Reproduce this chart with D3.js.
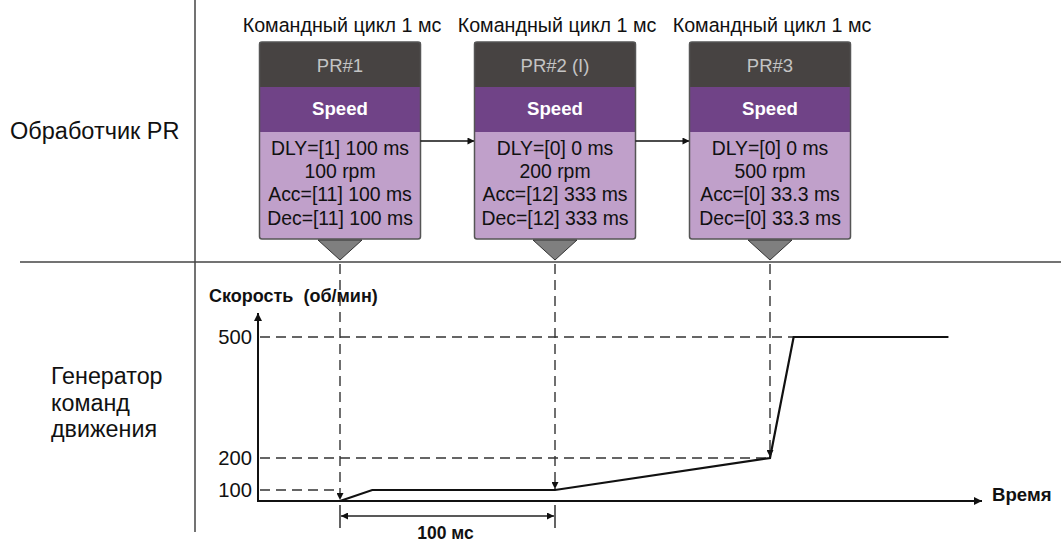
<!DOCTYPE html>
<html><head><meta charset="utf-8">
<script src="https://cdn.jsdelivr.net/npm/d3@7"></script>
<style>body{margin:0;background:#fff}svg{display:block}text{font-family:"Liberation Sans",Arial,sans-serif}</style>
</head><body><svg id="c" width="1061" height="544"></svg>
<script>
// ---- data ----
const cycleLabel = "Командный цикл 1 мс";
const prNames = ["PR#1", "PR#2 (I)", "PR#3"];
const prModes = ["Speed", "Speed", "Speed"];
const prDelay = ["DLY=[1] 100 ms", "DLY=[0] 0 ms", "DLY=[0] 0 ms"];
const prSpeed = ["100 rpm", "200 rpm", "500 rpm"];
const prAcc = ["Acc=[11] 100 ms", "Acc=[12] 333 ms", "Acc=[0] 33.3 ms"];
const prDec = ["Dec=[11] 100 ms", "Dec=[12] 333 ms", "Dec=[0] 33.3 ms"];
const triggerTimes = [0, 100, 200];          // ms, when each PR is issued
const curveTimes = [0, 15, 100, 200, 211, 283];
const curveSpeeds = [0, 100, 100, 200, 500, 500];
const yTicks = [100, 200, 500];
const dashEnds = [0, 200, 211];              // horizontal guides end time per tick
const rowLabelTop = "Обработчик PR";
const rowLabelBottom = ["Генератор", "команд", "движения"];
const yTitle = "Скорость  (об/мин)";
const xTitle = "Время";
const spanLabel = "100 мс";

// ---- layout ----
const svg = d3.select("#c");
const x = d3.scaleLinear().domain([0, 100]).range([340, 555]);
const y = d3.scaleLinear().domain([0, 100, 200, 500]).range([501, 490, 458, 337]);
const axisX0 = 258, sepY = 262;
const FS = 19.4;

const defs = svg.append("defs");
function marker(id, w, h) {
  defs.append("marker").attr("id", id).attr("viewBox", "0 0 10 10").attr("refX", 10).attr("refY", 5)
    .attr("markerWidth", w).attr("markerHeight", h).attr("markerUnits", "userSpaceOnUse").attr("orient", "auto-start-reverse")
    .append("path").attr("d", "M0,0L10,5L0,10z").attr("fill", "#111");
}
marker("arr", 12, 8);
marker("arrs", 10, 7);

// frame lines
svg.append("line").attr("x1", 195).attr("x2", 195).attr("y1", 0).attr("y2", 532).attr("stroke", "#444").attr("stroke-width", 1.5);
svg.append("line").attr("x1", 20).attr("x2", 1061).attr("y1", sepY).attr("y2", sepY).attr("stroke", "#444").attr("stroke-width", 1.5);

// row labels
svg.append("text").attr("x", 10).attr("y", 139).attr("font-size", 23.5).attr("fill", "#111").text(rowLabelTop);
rowLabelBottom.forEach((t, i) => svg.append("text").attr("x", 51).attr("y", 384 + i * 26.5).attr("font-size", 23.3).attr("fill", "#111").text(t));

// PR boxes
const bw = 161, bTop = 42, hdrH = 45, modeH = 45, bodyH = 107;
triggerTimes.forEach((t, i) => {
  const cx = x(t), bx = cx - bw / 2;
  const g = svg.append("g");
  g.append("text").attr("x", cx + 2).attr("y", 32).attr("text-anchor", "middle").attr("font-size", FS + 0.3).attr("fill", "#111").text(cycleLabel);
  g.append("rect").attr("x", bx).attr("y", bTop).attr("width", bw).attr("height", hdrH + modeH + bodyH).attr("rx", 2.5)
    .attr("fill", "#c0a0ca");
  g.append("rect").attr("x", bx).attr("y", bTop).attr("width", bw).attr("height", hdrH).attr("fill", "#474342");
  g.append("rect").attr("x", bx).attr("y", bTop + hdrH).attr("width", bw).attr("height", modeH).attr("fill", "#704387");
  g.append("rect").attr("x", bx).attr("y", bTop).attr("width", bw).attr("height", hdrH + modeH + bodyH).attr("rx", 2.5)
    .attr("fill", "none").attr("stroke", "#555").attr("stroke-width", 1.5);
  g.append("text").attr("x", cx).attr("y", bTop + 30).attr("text-anchor", "middle").attr("font-size", 18.5).attr("fill", "#c4c4c4").text(prNames[i]);
  g.append("text").attr("x", cx).attr("y", bTop + hdrH + 28).attr("text-anchor", "middle").attr("font-size", 18.6).attr("font-weight", "bold").attr("fill", "#fff").text(prModes[i]);
  [prDelay[i], prSpeed[i], prAcc[i], prDec[i]].forEach((s, k) =>
    g.append("text").attr("x", cx).attr("y", 155 + k * 23.2).attr("text-anchor", "middle").attr("font-size", FS).attr("fill", "#111").text(s));
  const by = bTop + hdrH + modeH + bodyH;
  g.append("path").attr("d", `M${cx - 22},${by + 1}L${cx + 22},${by + 1}L${cx},${by + 21}Z`).attr("fill", "#7f7f7f").attr("stroke", "#333").attr("stroke-width", 1);
  if (i < triggerTimes.length - 1) {
    g.append("line").attr("x1", bx + bw).attr("x2", x(triggerTimes[i + 1]) - bw / 2).attr("y1", 141).attr("y2", 141)
      .attr("stroke", "#111").attr("stroke-width", 1.5).attr("marker-end", "url(#arrs)");
  }
});

// dashed guides
const dash = "10,6";
triggerTimes.forEach((t, i) => {
  const idx = curveTimes.indexOf(t);
  svg.append("line").attr("x1", x(t)).attr("x2", x(t)).attr("y1", sepY + 2).attr("y2", y(curveSpeeds[idx]) - 1)
    .attr("stroke", "#333").attr("stroke-width", 1.4).attr("stroke-dasharray", dash).attr("marker-end", "url(#arrs)");
});
yTicks.forEach((v, i) => {
  svg.append("line").attr("x1", axisX0 + 2).attr("x2", x(dashEnds[i])).attr("y1", y(v)).attr("y2", y(v))
    .attr("stroke", "#333").attr("stroke-width", 1.4).attr("stroke-dasharray", dash);
  svg.append("text").attr("x", 252).attr("y", y(v) + 7).attr("text-anchor", "end").attr("font-size", 20.2).attr("fill", "#111").text(v);
});

// axes
svg.append("line").attr("x1", axisX0).attr("x2", axisX0).attr("y1", y(0) + 1).attr("y2", 313)
  .attr("stroke", "#111").attr("stroke-width", 2).attr("marker-end", "url(#arr)");
svg.append("line").attr("x1", axisX0).attr("x2", 982).attr("y1", y(0)).attr("y2", y(0))
  .attr("stroke", "#111").attr("stroke-width", 2).attr("marker-end", "url(#arr)");
svg.append("text").attr("x", 209).attr("y", 302).attr("font-size", 18).attr("font-weight", "bold").attr("fill", "#111").style("white-space", "pre").text(yTitle);
svg.append("text").attr("x", 992).attr("y", 501).attr("font-size", 18.6).attr("font-weight", "bold").attr("fill", "#111").text(xTitle);

// speed curve
const line = d3.line().x(d => x(d[0])).y(d => y(d[1]));
svg.append("path").datum(curveTimes.map((t, i) => [t, curveSpeeds[i]])).attr("d", line)
  .attr("fill", "none").attr("stroke", "#111").attr("stroke-width", 2.2).attr("stroke-linejoin", "miter");

// 100 ms span
const spanY = 516;
[triggerTimes[0], triggerTimes[1]].forEach(t =>
  svg.append("line").attr("x1", x(t)).attr("x2", x(t)).attr("y1", 505).attr("y2", 528).attr("stroke", "#222").attr("stroke-width", 1.4));
svg.append("line").attr("x1", x(triggerTimes[0]) + 1).attr("x2", x(triggerTimes[1]) - 1).attr("y1", spanY).attr("y2", spanY)
  .attr("stroke", "#222").attr("stroke-width", 1.4).attr("marker-start", "url(#arrs)").attr("marker-end", "url(#arrs)");
svg.append("text").attr("x", 445.5).attr("y", 539).attr("text-anchor", "middle")
  .attr("font-size", 17.5).attr("font-weight", "bold").attr("fill", "#111").text(spanLabel);
</script></body></html>
